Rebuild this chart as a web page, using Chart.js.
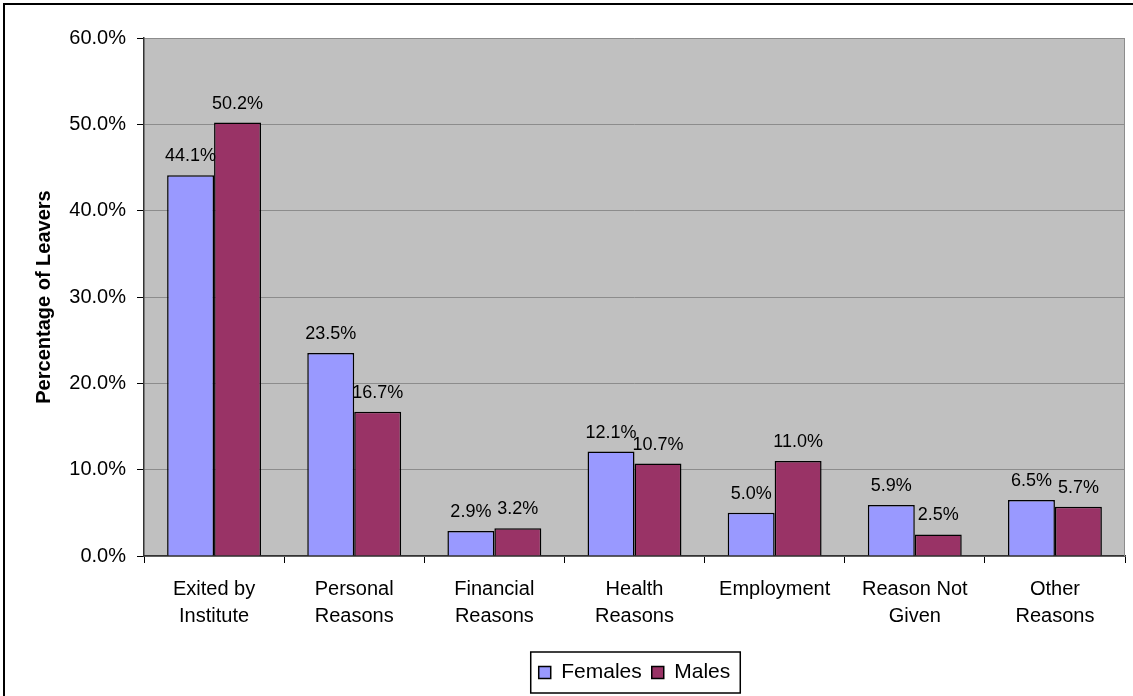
<!DOCTYPE html>
<html>
<head>
<meta charset="utf-8">
<script src="https://cdn.jsdelivr.net/npm/chart.js@4.4.1/dist/chart.umd.min.js"></script>
<style>
    html, body { margin: 0; padding: 0; background: #fff; }
    #wrap { width: 1133px; height: 696px; }
</style>
</head>
<body>
<div id="wrap"><canvas id="leaversChart" width="1133" height="696"></canvas></div>
<script>
// Reasons for leaving, split by gender (values in %)
const categories = [
    ['Exited by', 'Institute'],
    ['Personal', 'Reasons'],
    ['Financial', 'Reasons'],
    ['Health', 'Reasons'],
    ['Employment'],
    ['Reason Not', 'Given'],
    ['Other', 'Reasons']
];
const femalesPct = [44.1, 23.5, 2.9, 12.1, 5.0, 5.9, 6.5];
const malesPct = [50.2, 16.7, 3.2, 10.7, 11.0, 2.5, 5.7];
const yMax = 60;
const yStep = 10;

const FONT = '"Liberation Sans", Arial, sans-serif';

// grey plot area + outer frame
const plotBackground = {
    id: 'plotBackground',
    beforeDraw(chart) {
        const { ctx, chartArea } = chart;
        ctx.save();
        ctx.fillStyle = '#fff';
        ctx.fillRect(0, 0, chart.width, chart.height);
        ctx.strokeStyle = '#000';
        ctx.lineWidth = 2;
        ctx.strokeRect(4, 4, chart.width + 20, chart.height + 20);
        ctx.fillStyle = '#c0c0c0';
        ctx.fillRect(chartArea.left, chartArea.top, chartArea.right - chartArea.left, chartArea.bottom - chartArea.top);
        ctx.restore();
    },
    beforeDatasetsDraw(chart) {
        const { ctx, chartArea } = chart;
        ctx.save();
        ctx.strokeStyle = '#8c8c8c';
        ctx.lineWidth = 1;
        ctx.beginPath();
        ctx.moveTo(chartArea.right - 0.5, chartArea.top);
        ctx.lineTo(chartArea.right - 0.5, chartArea.bottom);
        ctx.stroke();
        ctx.restore();
    }
};

// value labels above each bar
const barLabels = {
    id: 'barLabels',
    afterDatasetsDraw(chart) {
        const ctx = chart.ctx;
        ctx.save();
        ctx.font = '18px ' + FONT;
        ctx.fillStyle = '#000';
        ctx.textAlign = 'center';
        ctx.textBaseline = 'alphabetic';
        chart.data.datasets.forEach((ds, i) => {
            chart.getDatasetMeta(i).data.forEach((bar, j) => {
                ctx.fillText(ds.data[j].toFixed(1) + '%', bar.x, bar.y - 14);
            });
        });
        ctx.restore();
    }
};

// centre the legend under the plot area and put a box round it
const legendBorder = {
    id: 'legendBorder',
    afterLayout(chart) {
        const legend = chart.legend;
        legend.left = chart.chartArea.left;
        legend.right = chart.chartArea.right;
        legend.width = legend.right - legend.left;
    },
    afterDraw(chart) {
        const legend = chart.legend;
        const boxes = legend.legendHitBoxes;
        if (!boxes || boxes.length === 0) return;
        const first = boxes[0];
        const last = boxes[boxes.length - 1];
        const left = first.left - 8;
        const right = last.left + last.width + 10;
        const ctx = chart.ctx;
        ctx.save();
        ctx.strokeStyle = '#000';
        ctx.lineWidth = 1.5;
        ctx.strokeRect(left, legend.top, right - left, legend.bottom - legend.top);
        ctx.restore();
    }
};

const ctx = document.getElementById('leaversChart').getContext('2d');
new Chart(ctx, {
    type: 'bar',
    data: {
        labels: categories,
        datasets: [{
            label: 'Females',
            data: femalesPct,
            backgroundColor: '#9999ff',
            borderColor: '#000',
            borderWidth: 1.5
        }, {
            label: 'Males',
            data: malesPct,
            backgroundColor: '#993366',
            borderColor: '#000',
            borderWidth: 1.5
        }]
    },
    options: {
        responsive: false,
        animation: false,
        devicePixelRatio: 1,
        categoryPercentage: 0.67,
        barPercentage: 1.0,
        layout: { padding: { left: 20, right: 8, top: 38, bottom: 3 } },
        plugins: {
            legend: {
                position: 'bottom',
                labels: {
                    color: '#000',
                    font: { family: FONT, size: 21 },
                    boxWidth: 12,
                    boxHeight: 12,
                    padding: 10
                }
            },
            tooltip: { enabled: false }
        },
        scales: {
            x: {
                grid: {
                    offset: true,
                    drawOnChartArea: false,
                    tickLength: 7,
                    color: '#000'
                },
                border: { color: '#333', width: 1.5 },
                ticks: {
                    color: '#000',
                    font: { family: FONT, size: 20, lineHeight: 1.35 },
                    maxRotation: 0,
                    autoSkip: false,
                    padding: 13
                },
                afterFit: (scale) => { scale.height = 96; }
            },
            y: {
                min: 0,
                max: yMax,
                ticks: {
                    stepSize: yStep,
                    color: '#000',
                    font: { family: FONT, size: 20 },
                    padding: 11,
                    callback: (v) => v.toFixed(1) + '%'
                },
                grid: {
                    color: '#8c8c8c',
                    tickColor: '#000',
                    tickLength: 7
                },
                border: { color: '#333', width: 1.5 },
                title: {
                    display: true,
                    text: 'Percentage of Leavers',
                    color: '#000',
                    font: { family: FONT, size: 20, weight: 'bold' },
                    padding: { top: 12, bottom: 0 }
                },
                afterFit: (scale) => { scale.width = 124; }
            }
        }
    },
    plugins: [plotBackground, barLabels, legendBorder]
});
</script>
</body>
</html>
